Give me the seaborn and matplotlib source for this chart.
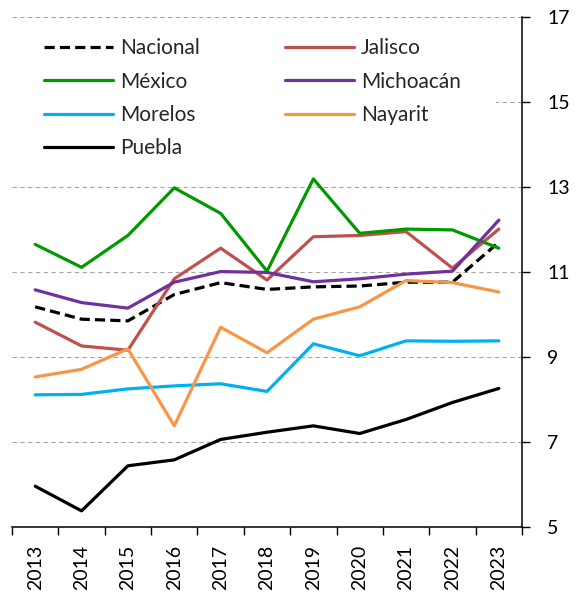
import matplotlib
matplotlib.use("Agg")
import matplotlib.pyplot as plt
import numpy as np
import pandas as pd
import seaborn as sns
from matplotlib.ticker import FixedLocator

sns.set_theme(style="white")
plt.rcParams['font.family'] = ['Lato', 'DejaVu Sans']

years = [str(y) for y in range(2013, 2024)]
nacional = [10.18, 9.89, 9.85, 10.47, 10.75, 10.59, 10.65, 10.67, 10.76, 10.76, 11.70]
jalisco = [9.82, 9.26, 9.16, 10.84, 11.56, 10.81, 11.83, 11.86, 11.95, 11.09, 12.01]
mexico = [11.65, 11.11, 11.86, 12.98, 12.38, 11.02, 13.19, 11.91, 12.01, 11.99, 11.56]
michoacan = [10.58, 10.28, 10.15, 10.76, 11.01, 10.99, 10.77, 10.84, 10.95, 11.02, 12.22]
morelos = [8.11, 8.12, 8.25, 8.32, 8.37, 8.19, 9.31, 9.03, 9.38, 9.37, 9.38]
nayarit = [8.53, 8.71, 9.19, 7.38, 9.70, 9.10, 9.89, 10.18, 10.80, 10.75, 10.53]
puebla = [5.96, 5.38, 6.44, 6.58, 7.06, 7.23, 7.38, 7.20, 7.53, 7.93, 8.26]

estados = ["Nacional", "Jalisco", "México", "Michoacán", "Morelos", "Nayarit", "Puebla"]
valores = [nacional, jalisco, mexico, michoacan, morelos, nayarit, puebla]
colores = ["black", "#C0504D", "#009900", "#7030A0", "#00B0F0", "#F79646", "black"]

df = pd.DataFrame({
    "anio": years * len(estados),
    "estado": np.repeat(estados, len(years)),
    "valor": np.concatenate(valores),
})

fig = plt.figure(figsize=(5.76, 5.93), dpi=100)
ax = fig.add_axes([12 / 576, 1 - 527 / 593, 510 / 576, 510 / 593])

for name, color in zip(estados, colores):
    sub = df[df["estado"] == name]
    sns.lineplot(data=sub, x="anio", y="valor", ax=ax, color=color,
                 linewidth=2.3, label=name, legend=False)
    if name == "Nacional":
        ax.lines[-1].set_linestyle((0, (3.2, 1.6)))

ax.set_xlim(-0.5, len(years) - 0.5)
ax.set_ylim(5, 17)
ax.set_xlabel("")
ax.set_ylabel("")

ax.yaxis.tick_right()
ax.set_yticks(np.arange(5, 18, 2))
ax.tick_params(axis="y", which="major", direction="out", length=6, width=1,
               pad=12, labelsize=14, colors="black", right=True, left=False)
ax.set_xticks(range(len(years)))
ax.set_xticklabels(years, rotation=90)
ax.xaxis.set_minor_locator(FixedLocator(np.arange(-0.5, len(years), 1)))
ax.tick_params(axis="x", which="major", length=0, pad=13, labelsize=14, colors="black")
ax.tick_params(axis="x", which="minor", direction="out", length=5.5, width=1,
               bottom=True, color="black")

for s in ["left", "top"]:
    ax.spines[s].set_visible(False)
for s in ["right", "bottom"]:
    ax.spines[s].set_color("black")
    ax.spines[s].set_linewidth(1.1)

ax.yaxis.grid(True, linestyle=(0, (4, 3)), color="#A6A6A6", linewidth=0.8)
ax.xaxis.grid(False)

# white box behind the legend, hides the 15 gridline like in the original
lax = ax.inset_axes([0, 0.70, 0.949, 0.294])
lax.set_facecolor("white")
lax.set_xticks([])
lax.set_yticks([])
for s in lax.spines.values():
    s.set_visible(False)

handles, labels = ax.get_legend_handles_labels()
order = [0, 2, 4, 6, 1, 3, 5]
lax.legend([handles[i] for i in order], [labels[i] for i in order],
           ncol=2, loc="upper left", bbox_to_anchor=(0.0627, 0.958),
           bbox_transform=ax.transAxes, frameon=False, fontsize=15,
           borderpad=0, borderaxespad=0, handlelength=3.3, handletextpad=0.34,
           columnspacing=4.1, labelspacing=0.64)

fig.savefig("out.png", dpi=100)
